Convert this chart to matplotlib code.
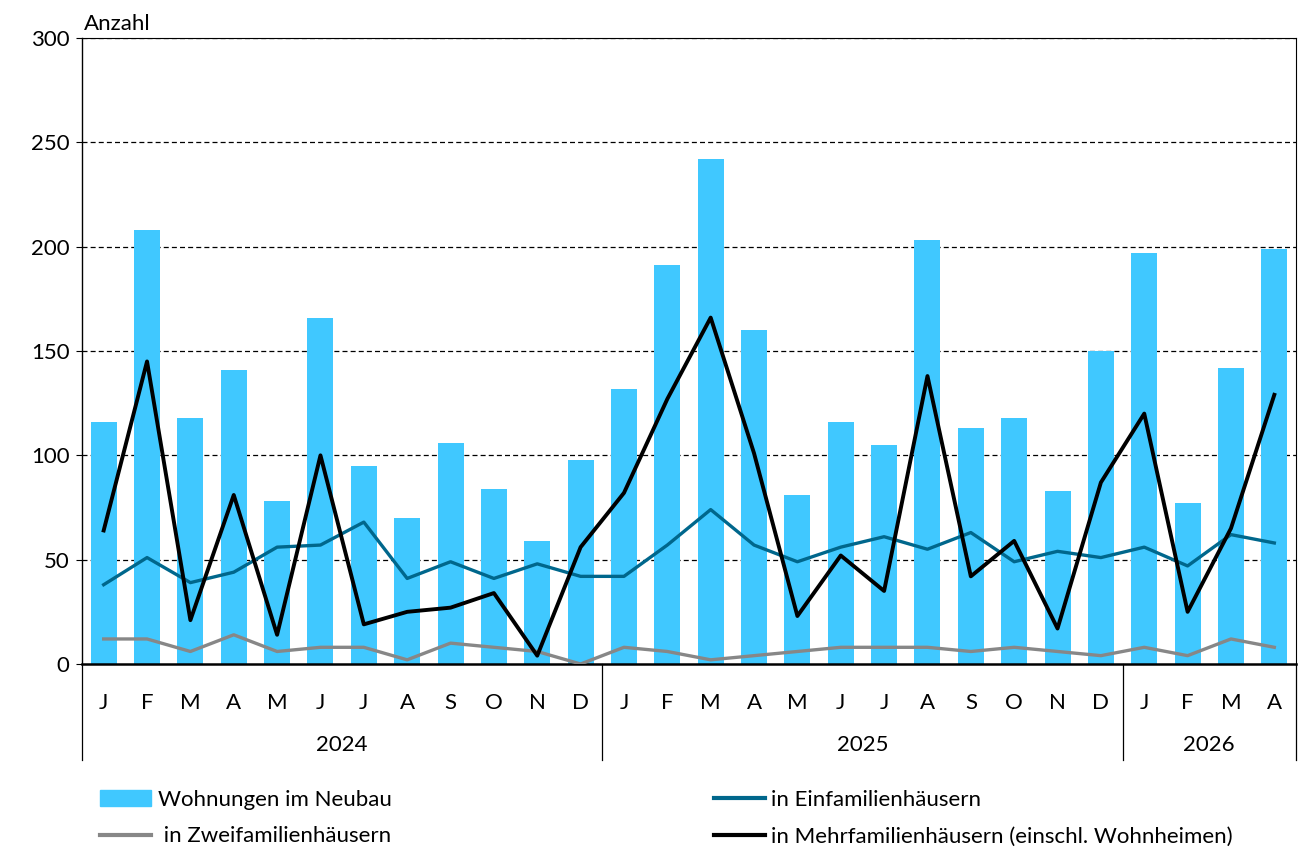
import matplotlib
matplotlib.use('Agg')
import matplotlib.pyplot as plt
import matplotlib.transforms as mtransforms
from matplotlib.lines import Line2D
from matplotlib.patches import Patch
import numpy as np

plt.rcParams['font.family'] = ['Lato', 'DejaVu Sans']

# Daten (Jan 2024 - Apr 2026)
monate = ["J", "F", "M", "A", "M", "J", "J", "A", "S", "O", "N", "D",
          "J", "F", "M", "A", "M", "J", "J", "A", "S", "O", "N", "D",
          "J", "F", "M", "A"]
jahre = ["2024", "2025", "2026"]
jahre_anzahl = [12, 12, 4]

neubau = [116, 208, 118, 141, 78, 166, 95, 70, 106, 84, 59, 98,
          132, 191, 242, 160, 81, 116, 105, 203, 113, 118, 83, 150,
          197, 77, 142, 199]
einfamilien = [38, 51, 39, 44, 56, 57, 68, 41, 49, 41, 48, 42,
               42, 57, 74, 57, 49, 56, 61, 55, 63, 49, 54, 51,
               56, 47, 62, 58]
zweifamilien = [12, 12, 6, 14, 6, 8, 8, 2, 10, 8, 6, 0,
                8, 6, 2, 4, 6, 8, 8, 8, 6, 8, 6, 4,
                8, 4, 12, 8]
mehrfamilien = [64, 145, 21, 81, 14, 100, 19, 25, 27, 34, 4, 56,
                82, 127, 166, 101, 23, 52, 35, 138, 42, 59, 17, 87,
                120, 25, 65, 129]

c_bar = "#40c8ff"
c_ein = "#00678c"
c_zwei = "#878787"
c_mehr = "#000000"
fs = 16

x = np.arange(len(monate))

fig = plt.figure(figsize=(12.98, 8.48), dpi=100)
ax = fig.add_axes([82/1298, 1 - 664/848, (1296 - 82)/1298, (664 - 38)/848])

ax.bar(x, neubau, width=0.6, color=c_bar, zorder=2)
ax.plot(x, einfamilien, color=c_ein, lw=2.4, zorder=3)
ax.plot(x, zweifamilien, color=c_zwei, lw=2.4, zorder=3)
ax.plot(x, mehrfamilien, color=c_mehr, lw=2.8, zorder=4)

ax.set_xlim(-0.5, len(monate) - 0.5)
ax.set_ylim(0, 300)
ax.set_yticks(range(0, 301, 50))
ax.tick_params(axis='y', labelsize=fs, length=4, width=0.8, pad=5)
ax.set_xticks(x)
ax.set_xticklabels(monate, fontsize=fs)
ax.tick_params(axis='x', length=0, pad=21)

for v in range(50, 301, 50):
    ax.axhline(v, color="black", lw=0.9, ls=(0, (4, 2.5)), zorder=1)

for s in ["top", "right"]:
    ax.spines[s].set_linewidth(0.8)
ax.spines["left"].set_linewidth(1.0)
ax.spines["bottom"].set_linewidth(1.8)

ax.text(0.002, 1.006, "Anzahl", transform=ax.transAxes, fontsize=fs,
        ha="left", va="bottom")

# Jahres-Trennlinien und Beschriftung
trans = mtransforms.blended_transform_factory(ax.transData, ax.transAxes)
unten = -(760 - 664) / 626
grenzen = [-0.5]
for n in jahre_anzahl:
    grenzen.append(grenzen[-1] + n)
for g in grenzen:
    ax.plot([g, g], [0, unten], color="black", lw=0.9, transform=trans,
            clip_on=False)
for i, j in enumerate(jahre):
    mitte = (grenzen[i] + grenzen[i + 1]) / 2
    ax.text(mitte, -(745 - 664) / 626, j, transform=trans, fontsize=fs,
            ha="center", va="center")

handles = [Patch(color=c_bar),
           Line2D([], [], color=c_zwei, lw=3),
           Line2D([], [], color=c_ein, lw=3),
           Line2D([], [], color=c_mehr, lw=3)]
labels = ["Wohnungen im Neubau", " in Zweifamilienhäusern",
          "in Einfamilienhäusern", "in Mehrfamilienhäusern (einschl. Wohnheimen)"]
fig.legend(handles, labels, loc="upper left", bbox_to_anchor=(82/1298, 1 - 772/848),
           ncol=2, frameon=False, fontsize=fs, handlelength=2.3,
           handletextpad=0.3, columnspacing=14.5, labelspacing=0.75,
           borderpad=0.3)

fig.savefig("out.png", dpi=100)
